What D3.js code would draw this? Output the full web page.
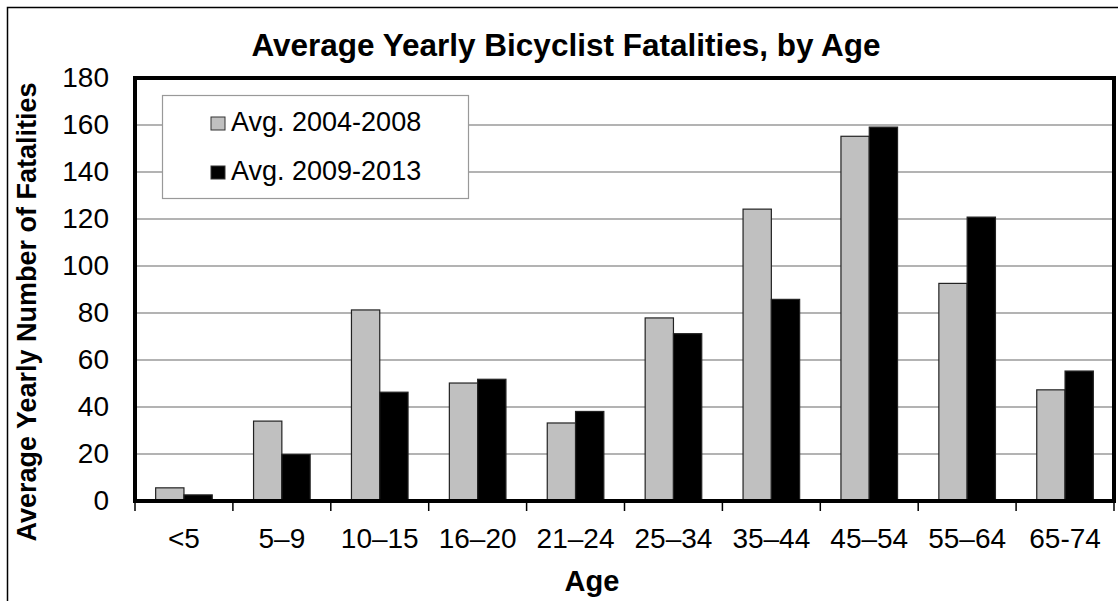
<!DOCTYPE html>
<html>
<head>
<meta charset="utf-8">
<script src="https://cdn.jsdelivr.net/npm/d3@7"></script>
<style>
  body { margin: 0; background: #fff; }
  svg { display: block; font-family: "Liberation Sans", Arial, sans-serif; }
</style>
</head>
<body>
<div id="chart"></div>
<script>
// data
const ages = ["<5", "5\u20139", "10\u201315", "16\u201320", "21\u201324", "25\u201334", "35\u201344", "45\u201354", "55\u201364", "65-74"];
const seriesNames = ["Avg. 2004-2008", "Avg. 2009-2013"];
const avg2004_2008 = [5.6, 34, 81.3, 50.2, 33.2, 77.9, 124.2, 155.2, 92.6, 47.3];
const avg2009_2013 = [2.6, 19.8, 46.3, 51.8, 38.1, 71.2, 85.8, 159.1, 120.8, 55.3];
const yTicks = [0, 20, 40, 60, 80, 100, 120, 140, 160, 180];

const W = 1118, H = 601;
const plot = {left: 135, right: 1114, top: 78, bottom: 501};

const svg = d3.select("#chart")
    .append("svg")
    .attr("width", W)
    .attr("height", H);

// outer chart border (runs off the right and bottom edges)
svg.append("rect")
    .attr("x", 7.5).attr("y", 7.5)
    .attr("width", W + 10).attr("height", H + 10)
    .attr("fill", "none")
    .attr("stroke", "#000")
    .attr("stroke-width", 1.5);

// scales
const x = d3.scaleBand()
    .domain(ages)
    .range([plot.left, plot.right])
    .padding(0);
const xInner = d3.scaleBand()
    .domain(seriesNames)
    .range([0, x.step()])
    .paddingInner(0)
    .paddingOuter(0.73);
const y = d3.scaleLinear()
    .domain([0, 180])
    .range([plot.bottom, plot.top]);

const color = d3.scaleOrdinal()
    .domain(seriesNames)
    .range(["#c0c0c0", "#000000"]);

// gridlines
svg.append("g")
    .selectAll("line")
    .data(yTicks.filter(d => d > 0 && d < 180))
    .join("line")
    .attr("x1", plot.left).attr("x2", plot.right)
    .attr("y1", d => y(d)).attr("y2", d => y(d))
    .attr("stroke", "#9a9a9a")
    .attr("stroke-width", 1.5);

// bars
const rows = ages.map((a, i) => ({age: a, values: [avg2004_2008[i], avg2009_2013[i]]}));
svg.append("g")
    .selectAll("g")
    .data(rows)
    .join("g")
    .attr("transform", d => `translate(${x(d.age)},0)`)
    .selectAll("rect")
    .data(d => seriesNames.map((s, j) => ({series: s, value: d.values[j]})))
    .join("rect")
    .attr("x", d => xInner(d.series))
    .attr("y", d => y(d.value))
    .attr("width", xInner.bandwidth())
    .attr("height", d => y(0) - y(d.value))
    .attr("fill", d => color(d.series))
    .attr("stroke", "#222")
    .attr("stroke-width", 1.2);

// y axis tick labels
svg.append("g")
    .attr("transform", `translate(${plot.left},0)`)
    .call(d3.axisLeft(y).tickValues(yTicks).tickSize(0).tickPadding(26))
    .call(g => g.select(".domain").remove())
    .selectAll("text")
    .attr("font-family", "'Liberation Sans', Arial, sans-serif")
    .attr("font-size", 28)
    .attr("fill", "#000");

// x axis: ticks at category boundaries
const bounds = ages.map(a => x(a)).concat([plot.right]);
svg.append("g")
    .selectAll("line")
    .data(bounds)
    .join("line")
    .attr("x1", d => d).attr("x2", d => d)
    .attr("y1", plot.bottom).attr("y2", plot.bottom + 10)
    .attr("stroke", "#000")
    .attr("stroke-width", 1.5);

svg.append("g")
    .selectAll("text")
    .data(ages)
    .join("text")
    .attr("x", d => x(d) + x.bandwidth() / 2)
    .attr("y", 548)
    .attr("text-anchor", "middle")
    .attr("font-size", 28)
    .text(d => d);

// plot frame
svg.append("rect")
    .attr("x", plot.left).attr("y", plot.top)
    .attr("width", plot.right - plot.left)
    .attr("height", plot.bottom - plot.top)
    .attr("fill", "none")
    .attr("stroke", "#000")
    .attr("stroke-width", 4);

// title and axis titles
svg.append("text")
    .attr("x", 566).attr("y", 56)
    .attr("text-anchor", "middle")
    .attr("font-size", 31.5)
    .attr("font-weight", "bold")
    .text("Average Yearly Bicyclist Fatalities, by Age");

svg.append("text")
    .attr("transform", "translate(36,312) rotate(-90)")
    .attr("text-anchor", "middle")
    .attr("font-size", 27)
    .attr("font-weight", "bold")
    .text("Average Yearly Number of Fatalities");

svg.append("text")
    .attr("x", 592).attr("y", 591)
    .attr("text-anchor", "middle")
    .attr("font-size", 29)
    .attr("font-weight", "bold")
    .text("Age");

// legend
const legend = svg.append("g");
legend.append("rect")
    .attr("x", 162.5).attr("y", 95.5)
    .attr("width", 306).attr("height", 103)
    .attr("fill", "#fff")
    .attr("stroke", "#999")
    .attr("stroke-width", 1.2);

const items = legend.selectAll("g")
    .data(seriesNames)
    .join("g")
    .attr("transform", (d, i) => `translate(211,${117 + i * 49})`);
items.append("rect")
    .attr("width", 14).attr("height", 13)
    .attr("fill", d => color(d))
    .attr("stroke", "#333")
    .attr("stroke-width", 1);
items.append("text")
    .attr("x", 20)
    .attr("y", 14)
    .attr("font-size", 27)
    .text(d => d);
</script>
</body>
</html>
